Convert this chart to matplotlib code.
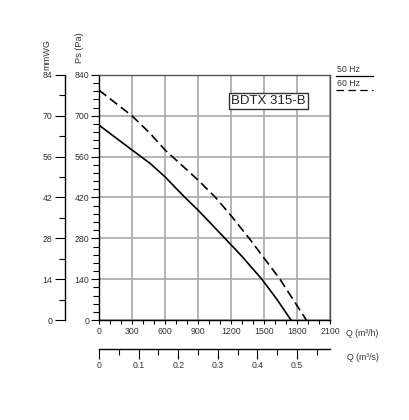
import matplotlib
matplotlib.use("Agg")
import matplotlib.pyplot as plt
from matplotlib.lines import Line2D

plt.rcParams['font.family'] = ['Liberation Sans', 'DejaVu Sans']

# Data (Q in m3/h, Ps in Pa)
q_50hz = [0, 300, 464, 600, 782, 900, 1145, 1300, 1480, 1615, 1745]
ps_50hz = [668, 583, 537, 491, 420, 377, 280, 218, 140, 72, 0]
q_60hz = [0, 300, 464, 600, 900, 1060, 1200, 1365, 1645, 1885]
ps_60hz = [788, 700, 640, 583, 480, 420, 358, 280, 140, 0]

x_ticks = [0, 300, 600, 900, 1200, 1500, 1800, 2100]
y_ticks = [0, 140, 280, 420, 560, 700, 840]
mmwg_ticks = [0, 14, 28, 42, 56, 70, 84]
qs_ticks = [0, 0.1, 0.2, 0.3, 0.4, 0.5]
model_name = "BDTX 315-B"
legend_labels = ["50 Hz", "60 Hz"]

W, H = 410, 420
fig = plt.figure(figsize=(W / 100, H / 100), dpi=100)

def fx(px):
    return px / W

def fy(py):
    return 1 - py / H

left, right, top, bottom = 99, 330, 75, 320
ax = fig.add_axes([fx(left), fy(bottom), (right - left) / W, (bottom - top) / H])

txt_color = '#333333'
fs = 6.3

ax.plot(q_50hz, ps_50hz, color='black', lw=1.2, solid_joinstyle='round')
ax.plot(q_60hz, ps_60hz, color='black', lw=1.2, linestyle=(0, (5.5, 2.8)))

ax.set_xlim(0, 2100)
ax.set_ylim(0, 840)
ax.set_xticks(x_ticks)
ax.set_xticks(range(0, 2101, 100), minor=True)
ax.set_yticks(y_ticks)
ax.set_yticks(range(0, 841, 28), minor=True)
ax.set_xticklabels([str(v) for v in x_ticks], fontsize=fs, color=txt_color)
ax.set_yticklabels([str(v) for v in y_ticks], fontsize=fs, color=txt_color)
ax.grid(True, which='major', color='#a8a8a8', lw=1.2)
ax.tick_params(axis='x', which='both', direction='out', length=3, width=0.8, pad=2)
ax.tick_params(axis='y', which='major', direction='out', length=6, width=0.8, pad=1)
ax.tick_params(axis='y', which='minor', direction='out', length=4, width=0.8)
for s in ['left', 'bottom']:
    ax.spines[s].set_color('black')
    ax.spines[s].set_linewidth(1.0)
for s in ['top', 'right']:
    ax.spines[s].set_color('#555555')
    ax.spines[s].set_linewidth(1.0)

# mmWG axis
sec_y = ax.secondary_yaxis((65 - left) / (right - left),
                           functions=(lambda p: p / 10.0, lambda m: m * 10.0))
sec_y.set_yticks(mmwg_ticks)
sec_y.set_yticks(range(0, 85, 7), minor=True)
sec_y.set_yticklabels([str(v) for v in mmwg_ticks], fontsize=fs, color=txt_color)
sec_y.tick_params(axis='y', which='major', length=7, width=0.8, pad=2)
sec_y.tick_params(axis='y', which='minor', length=4, width=0.8)
sec_y.spines['left'].set_linewidth(1.0)

# Q (m3/s) axis
sec_x = ax.secondary_xaxis(-(349 - bottom) / (bottom - top),
                           functions=(lambda q: q / 3600.0, lambda s: s * 3600.0))
sec_x.set_xticks(qs_ticks)
sec_x.set_xticks([0.05, 0.15, 0.25, 0.35, 0.45, 0.55], minor=True)
sec_x.set_xticklabels([str(v) for v in qs_ticks], fontsize=fs, color=txt_color)
sec_x.tick_params(axis='x', which='major', length=7, width=0.8, pad=2)
sec_x.tick_params(axis='x', which='minor', length=4, width=0.8)
sec_x.spines['bottom'].set_linewidth(1.0)

# axis titles
fig.text(fx(47), fy(54), "mmWG", rotation=90, fontsize=6.6, color=txt_color,
         ha='center', va='center')
fig.text(fx(80), fy(48), "Ps (Pa)", rotation=90, fontsize=6.6, color=txt_color,
         ha='center', va='center')
fig.text(fx(346), fy(333), "Q (m³/h)", fontsize=fs, color=txt_color,
         ha='left', va='center')
fig.text(fx(347), fy(358), "Q (m³/s)", fontsize=fs, color=txt_color,
         ha='left', va='center')

# model box
ax.text(0.895, 0.895, model_name, transform=ax.transAxes, fontsize=9.5,
        ha='right', va='center', color='#222222',
        bbox=dict(boxstyle='square,pad=0.15', fc='white', ec='#333333', lw=1.0))

# legend at top right
fig.text(fx(337), fy(70), legend_labels[0], fontsize=fs, color=txt_color,
         ha='left', va='center')
fig.text(fx(337), fy(83), legend_labels[1], fontsize=fs, color=txt_color,
         ha='left', va='center')
fig.add_artist(Line2D([fx(336), fx(373)], [fy(76), fy(76)], color='black', lw=0.9,
                      transform=fig.transFigure))
fig.add_artist(Line2D([fx(336), fx(373)], [fy(90), fy(90)], color='black', lw=0.9,
                      linestyle=(0, (6, 3.5)), transform=fig.transFigure))

fig.savefig("out.png", dpi=100, facecolor='white')
